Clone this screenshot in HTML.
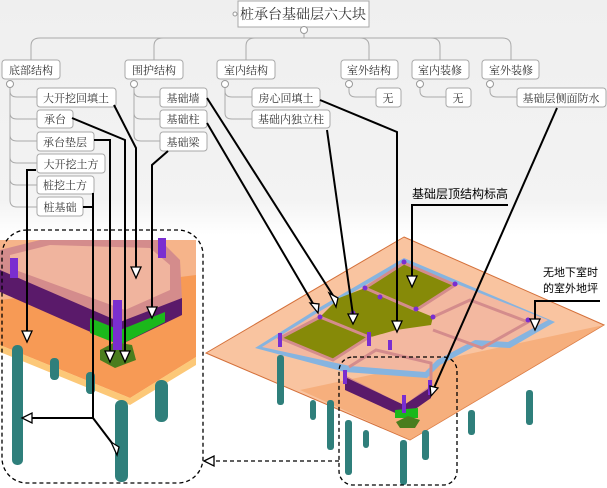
<!DOCTYPE html>
<html><head><meta charset="utf-8"><style>
body{margin:0;width:607px;height:488px;overflow:hidden;background:#fff;font-family:"Liberation Sans","Noto Sans CJK SC",sans-serif}
svg{display:block}
.b{fill:#fff;stroke:#a8a8a8;stroke-width:1}
.t{font-family:"Noto Serif CJK SC","Noto Sans CJK SC",serif;font-size:11px;fill:#333}
.c{fill:none;stroke:#aaa;stroke-width:1}
.k{fill:none;stroke:#000;stroke-width:2}
.ar{fill:#fff;stroke:#000;stroke-width:1.3}
.ci{fill:#fff;stroke:#999;stroke-width:1}
</style></head><body>
<svg width="607" height="488" viewBox="0 0 607 488" xmlns="http://www.w3.org/2000/svg">
<defs><linearGradient id="bg" x1="0" y1="0" x2="0" y2="1"><stop offset="0" stop-color="#efefef"/><stop offset="0.85" stop-color="#f3f3f3"/><stop offset="1" stop-color="#fff"/></linearGradient></defs>
<rect x="0" y="0" width="607" height="235" fill="url(#bg)"/>

<rect class="b" x="238" y="1" width="131" height="26"/>
<text class="t" x="303" y="19" text-anchor="middle" style="font-size:14px">桩承台基础层六大块</text>
<circle class="ci" cx="235" cy="14" r="2"/>
<line class="c" x1="304" y1="27" x2="304" y2="38"/>
<circle class="ci" cx="304" cy="30" r="3.5"/>
<path class="c" d="M31 60 V46 Q31 38 40 38 H502 Q511 38 511 46 V60 M154 60 V46 Q154 38 163 38 M246 60 V46 Q246 38 255 38 M369 60 V46 Q369 38 360 38 M440 60 V46 Q440 38 431 38"/>
<g>
<rect class="b" x="2" y="60" width="58" height="19" rx="3"/><text class="t" x="31" y="74" text-anchor="middle">底部结构</text>
<rect class="b" x="125" y="60" width="58" height="19" rx="3"/><text class="t" x="154" y="74" text-anchor="middle">围护结构</text>
<rect class="b" x="217" y="60" width="58" height="19" rx="3"/><text class="t" x="246" y="74" text-anchor="middle">室内结构</text>
<rect class="b" x="341" y="60" width="57" height="19" rx="3"/><text class="t" x="369" y="74" text-anchor="middle">室外结构</text>
<rect class="b" x="412" y="60" width="57" height="19" rx="3"/><text class="t" x="440" y="74" text-anchor="middle">室内装修</text>
<rect class="b" x="482" y="60" width="57" height="19" rx="3"/><text class="t" x="511" y="74" text-anchor="middle">室外装修</text>
</g>
<path class="c" d="M10 84 V200 Q10 207 17 207 H37 M10 91 Q10 97 17 97 H37 M10 113 Q10 119 17 119 H37 M10 135 Q10 141 17 141 H37 M10 157 Q10 163 17 163 H37 M10 179 Q10 185 17 185 H37"/>
<path class="c" d="M134 84 V135 Q134 141 141 141 H160 M134 91 Q134 97 141 97 H160 M134 113 Q134 119 141 119 H160"/>
<path class="c" d="M225 84 V113 Q225 119 232 119 H252 M225 91 Q225 97 232 97 H252"/>
<path class="c" d="M349 84 V91 Q349 97 356 97 H376 M420 84 V91 Q420 97 427 97 H446 M490 84 V91 Q490 97 497 97 H517"/>
<g>
<circle class="ci" cx="10" cy="84" r="3.5"/><circle class="ci" cx="134" cy="84" r="3.5"/><circle class="ci" cx="225" cy="84" r="3.5"/>
<circle class="ci" cx="349" cy="84" r="3.5"/><circle class="ci" cx="420" cy="84" r="3.5"/><circle class="ci" cx="490" cy="84" r="3.5"/>
</g>
<g>
<rect class="b" x="37" y="88" width="79" height="19" rx="3"/><text class="t" x="76" y="102" text-anchor="middle">大开挖回填土</text>
<rect class="b" x="37" y="110" width="36" height="18" rx="3"/><text class="t" x="55" y="123" text-anchor="middle">承台</text>
<rect class="b" x="37" y="132" width="57" height="19" rx="3"/><text class="t" x="65" y="146" text-anchor="middle">承台垫层</text>
<rect class="b" x="37" y="154" width="68" height="19" rx="3"/><text class="t" x="71" y="168" text-anchor="middle">大开挖土方</text>
<rect class="b" x="37" y="176" width="57" height="18" rx="3"/><text class="t" x="65" y="189" text-anchor="middle">桩挖土方</text>
<rect class="b" x="37" y="197" width="46" height="19" rx="3"/><text class="t" x="60" y="211" text-anchor="middle">桩基础</text>
<rect class="b" x="160" y="88" width="47" height="19" rx="3"/><text class="t" x="183" y="102" text-anchor="middle">基础墙</text>
<rect class="b" x="160" y="110" width="47" height="18" rx="3"/><text class="t" x="183" y="123" text-anchor="middle">基础柱</text>
<rect class="b" x="160" y="132" width="47" height="19" rx="3"/><text class="t" x="183" y="146" text-anchor="middle">基础梁</text>
<rect class="b" x="252" y="88" width="68" height="19" rx="3"/><text class="t" x="286" y="102" text-anchor="middle">房心回填土</text>
<rect class="b" x="252" y="110" width="78" height="18" rx="3"/><text class="t" x="291" y="123" text-anchor="middle">基础内独立柱</text>
<rect class="b" x="376" y="88" width="25" height="19" rx="3"/><text class="t" x="388" y="102" text-anchor="middle">无</text>
<rect class="b" x="446" y="88" width="25" height="19" rx="3"/><text class="t" x="458" y="102" text-anchor="middle">无</text>
<rect class="b" x="517" y="88" width="89" height="19" rx="3"/><text class="t" x="561" y="102" text-anchor="middle">基础层侧面防水</text>
</g>

<!-- LEFT 3D detail -->
<polygon points="0,240 196,240 196,357 130,398 0,345" fill="#f6b48a"/>
<polygon points="0,300 196,275 196,357 130,398 0,345" fill="#f79a55"/>
<polygon points="0,345 130,398 196,357 196,365 130,405 0,352" fill="#fcc878"/>
<g fill="#2f7f7b">
<rect x="12" y="345" width="11" height="120" rx="5"/>
<rect x="115" y="400" width="13" height="82" rx="6"/>
<rect x="50" y="358" width="9" height="22" rx="4"/>
<rect x="86" y="372" width="9" height="22" rx="4"/>
<rect x="155" y="380" width="13" height="42" rx="6"/>
</g>
<polygon points="0,250 40,240 160,240 180,260 182,300 120,325 0,280" fill="#d48c8c"/>
<polygon points="10,255 50,245 150,248 170,265 170,290 125,310 10,268" fill="#f0b49e"/>
<polygon points="0,270 120,322 120,345 0,292" fill="#5a1a6a"/>
<polygon points="120,322 182,298 182,315 120,345" fill="#5a1a6a"/>
<polygon points="90,318 120,330 120,345 90,333" fill="#1bb81b"/>
<polygon points="120,330 165,312 165,322 120,345" fill="#1bb81b"/>
<polygon points="100,350 115,342 132,345 136,360 115,368 100,360" fill="#4a7d1e"/>
<rect x="113" y="300" width="9" height="50" fill="#7a2ed0"/>
<rect x="10" y="258" width="8" height="20" fill="#7a2ed0"/>
<rect x="158" y="238" width="8" height="20" fill="#7a2ed0"/>

<!-- RIGHT 3D -->
<polygon points="404,237 604,325 410,440 206,353" fill="#f9c4a0" stroke="#d4703a" stroke-width="1"/>
<polygon points="300,390 604,325 410,440" fill="#f5a66e" opacity="0.7"/>
<g fill="#2f7f7b">
<rect x="277" y="355" width="7" height="50" rx="3"/><rect x="327" y="400" width="7" height="50" rx="3"/>
<rect x="345" y="420" width="7" height="55" rx="3"/><rect x="400" y="440" width="7" height="45" rx="3"/>
<rect x="422" y="430" width="7" height="30" rx="3"/><rect x="468" y="410" width="7" height="25" rx="3"/>
<rect x="526" y="390" width="7" height="35" rx="3"/><rect x="310" y="400" width="6" height="20" rx="3"/>
<rect x="363" y="430" width="6" height="18" rx="3"/>
</g>
<!-- blue waterproof -->
<polygon points="404,258 555,322 510,348 475,346 440,365 427,378 345,372 255,348 322,306" fill="#86b4e0"/>
<!-- pink floor -->
<polygon points="404,263 548,320 508,342 475,340 437,360 425,372 350,366 262,347 322,310" fill="#f3b8a0"/>
<!-- olive rooms -->
<polygon points="404,263 455,285 416,310 365,288" fill="#868a08"/>
<polygon points="320,317 369,337 333,360 280,338" fill="#868a08"/>
<polygon points="339,298 365,288 416,310 433,317 431,325 396,330 371,337 320,317" fill="#868a08"/>
<!-- walls -->
<g stroke="#d48c8c" stroke-width="3" fill="none">
<polyline points="404,263 455,285 416,310 365,288 404,263"/>
<polyline points="320,317 369,337 333,360 280,338 320,317"/>
<polyline points="433,317 470,300 528,322 482,348 433,330"/>
<polyline points="349,367 376,350 431,363 431,387 404,407 345,377"/>
</g>
<polygon points="345,377 404,405 404,417 345,390" fill="#5a1a6a"/>
<polygon points="404,405 431,387 431,398 404,417" fill="#5a1a6a"/>
<polygon points="395,410 418,408 418,418 395,418" fill="#1bb81b"/>
<polygon points="396,422 408,416 420,420 415,428 400,428" fill="#4a7d1e"/>
<g fill="#7a2ed0">
<rect x="402" y="395" width="4" height="18"/><rect x="428" y="380" width="4" height="15"/><rect x="343" y="370" width="4" height="14"/>
<rect x="367" y="332" width="4" height="14"/><rect x="278" y="333" width="4" height="14"/><rect x="388" y="340" width="4" height="10"/>
<circle cx="404" cy="262" r="2.5"/><circle cx="455" cy="284" r="2.5"/><circle cx="416" cy="309" r="2.5"/><circle cx="365" cy="288" r="2.5"/>
<circle cx="320" cy="317" r="2.5"/><circle cx="353" cy="313" r="2.5"/><circle cx="380" cy="297" r="2.5"/><circle cx="433" cy="317" r="2.5"/><circle cx="528" cy="320" r="2.5"/>
</g>

<text x="412" y="198" style="font-size:12px;font-family:'Noto Sans CJK SC',sans-serif" fill="#000">基础层顶结构标高</text>
<text x="543" y="276" style="font-size:11px;font-family:'Noto Sans CJK SC',sans-serif" fill="#000">无地下室时</text>
<text x="543" y="292" style="font-size:11px;font-family:'Noto Sans CJK SC',sans-serif" fill="#000">的室外地坪</text>

<g class="k">
<polyline points="114,105 136,148 136,268"/>
<polyline points="72,118 125,140 125,352"/>
<polyline points="94,140 110,140 110,352"/>
<polyline points="36,170 27,170 27,332"/>
<polyline points="94,194 93,194 93,418 28,418"/>
<polyline points="83,207 93,207"/>
<polyline points="93,418 115,447"/>
<polyline points="168,151 152,165 152,308"/>
<polyline points="207,98 334,297"/>
<polyline points="207,123 315,307"/>
<polyline points="327,130 353,315"/>
<polyline points="320,100 397,132 397,322"/>
<polyline points="508,205 412,205 412,277"/>
<polyline points="557,108 434,388"/>
<polyline points="600,301 535,301 535,320"/>
</g>
<g class="ar">
<polygon points="131,267 141,267 136,278"/>
<polygon points="120,351 130,351 125,362"/>
<polygon points="105,351 115,351 110,362"/>
<polygon points="22,331 32,331 27,342"/>
<polygon points="147,307 157,307 152,318"/>
<polygon points="329,293 338,298 336,307"/>
<polygon points="310,303 319,304 318,313"/>
<polygon points="348,314 358,314 353,324"/>
<polygon points="392,321 402,321 397,332"/>
<polygon points="407,276 417,276 412,287"/>
<polygon points="530,319 540,319 535,330"/>
<polygon points="22,418 32,413 32,423"/>
<polygon points="111,442 119,447 117,455"/>
<polygon points="430,386 438,388 431,396"/>
</g>
<g fill="none" stroke="#000" stroke-width="1.3" stroke-dasharray="4,3">
<rect x="2" y="230" width="201" height="253" rx="25"/>
<rect x="339" y="357" width="118" height="128" rx="14"/>
<line x1="339" y1="461" x2="210" y2="461"/>
</g>
<polygon points="204,461 214,456 214,466" fill="#fff" stroke="#000" stroke-width="1.3"/>
</svg>
</body></html>
